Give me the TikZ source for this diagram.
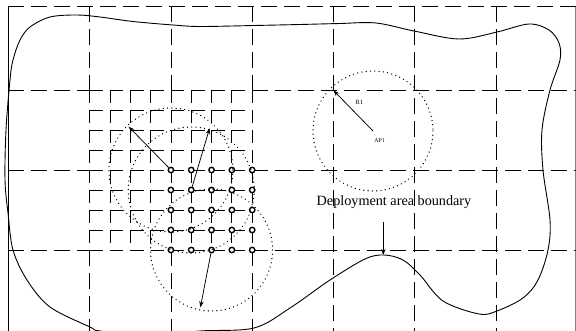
\documentclass[tikz,border=0pt]{standalone}
\usepackage{fontspec}
\setmainfont{Liberation Serif}
\usetikzlibrary{arrows.meta}

\tikzset{
	biggrid/.style={line width=0.8pt, dash pattern=on 16pt off 7pt},
	finegridh/.style={line width=0.8pt, dash pattern=on 13.5pt off 6.825pt},
	finegridv/.style={line width=0.8pt, dash pattern=on 13.5pt off 6.5pt},
	coverage/.style={line width=1.4pt, dash pattern=on 0.01pt off 4.3pt, line cap=round},
	sensor/.style={circle, draw, fill=white, line width=1.4pt, inner sep=0pt, minimum size=5.4pt},
	rangearrow/.style={-{Stealth[length=6pt,width=4.5pt]}, line width=0.75pt},
}

\begin{document}
\begin{tikzpicture}[x=1pt, y=-1pt]
\useasboundingbox (0,0) rectangle (576,331);

	% frame
	\draw[line width=0.8pt] (8.3,6) -- (8.3,331);
	\draw[gray, line width=0.5pt] (575.5,6) -- (575.5,331);
	\draw[biggrid] (8.3,6) -- (576,6);

	% large grid (cut out where the fine grid lies)
	\foreach \x in {4,5,6}
		\draw[biggrid] ({8.3+81.3*\x},6) -- ({8.3+81.3*\x},331);
	\foreach \x in {1,2,3} {
		\draw[biggrid] ({8.3+81.3*\x},6) -- ({8.3+81.3*\x},90);
		\draw[biggrid] ({8.3+81.3*\x},250) -- ({8.3+81.3*\x},331);
	}
	\foreach \y in {90,170,250} {
		\draw[biggrid] (8.3,\y) -- (89.6,\y);
		\draw[biggrid] (252.2,\y) -- (576,\y);
	}

	% fine grid
	\foreach \i in {0,...,8} {
		\draw[finegridv] ({89.6+20.325*\i},90) -- ({89.6+20.325*\i},250);
		\draw[finegridh] (89.6,{90+20*\i}) -- (252.2,{90+20*\i});
	}

	% sensor nodes
	\foreach \i in {0,...,4}
		\foreach \j in {0,...,4}
			\node[sensor] (s-\i-\j) at ({170.9+20.325*\i},{170+20*\j}) {};

	% coverage circles of the sensors
	\draw[coverage] (s-0-0.center) circle[radius=62];
	\draw[coverage] (s-1-1.center) circle[radius=63];
	\draw[coverage] (s-2-4.center) circle[radius=61];

	\coordinate (tipA) at (128.7,126.7);
	\coordinate (tipB) at (209.6,128.3);
	\coordinate (tipC) at (200.4,307.3);
	\draw[rangearrow] (s-0-0) -- (tipA);
	\draw[rangearrow] (s-1-1) -- (tipB);
	\draw[rangearrow] (s-2-4) -- (tipC);

	% access point
	\coordinate (ap1) at (373,131);
	\coordinate (r1tip) at (333.5,90.5);
	\draw[coverage] (ap1) circle[radius=60];
	\draw[rangearrow] (ap1) -- (r1tip);
	\node[font=\fontsize{6.5}{7}\selectfont] (r1lbl) at (359.5,102.5) {R1};
	\node[font=\fontsize{5.8}{7}\selectfont] (ap1lbl) at (379.5,141) {AP1};

	% deployment area boundary
	\draw[line width=0.9pt] plot[smooth cycle, tension=0.55] coordinates {
		(13,60) (20,40) (30,27) (50,17) (77,15) (100,17) (133,21.5) (173,25)
		(200,26.5) (254,25.5) (300,24.5) (340,23.5) (376,23) (414,31) (459,39)
		(497,32) (529,24) (549,30) (559,43) (560,60) (550,90) (542,130)
		(543,170) (550,220) (548,250) (538,280) (523,298) (497,311) (479,314)
		(443,301) (420,275) (403,260) (384,255) (365,259) (330,280) (290,308)
		(254,328) (200,331) (150,336) (100,331) (90,327) (50,307) (27,280)
		(13,250) (8,213) (5,180) (6,130) (10,80)};

	\node[inner sep=0pt, font=\fontsize{14.2}{16}\selectfont] (bnd) at (394,201.7) {Deployment area boundary};
	\coordinate (bndarrow) at (383.3,222);
	\coordinate (bump) at (383.3,255);
	\draw[rangearrow] (bndarrow) -- (bump);

\end{tikzpicture}
\end{document}
